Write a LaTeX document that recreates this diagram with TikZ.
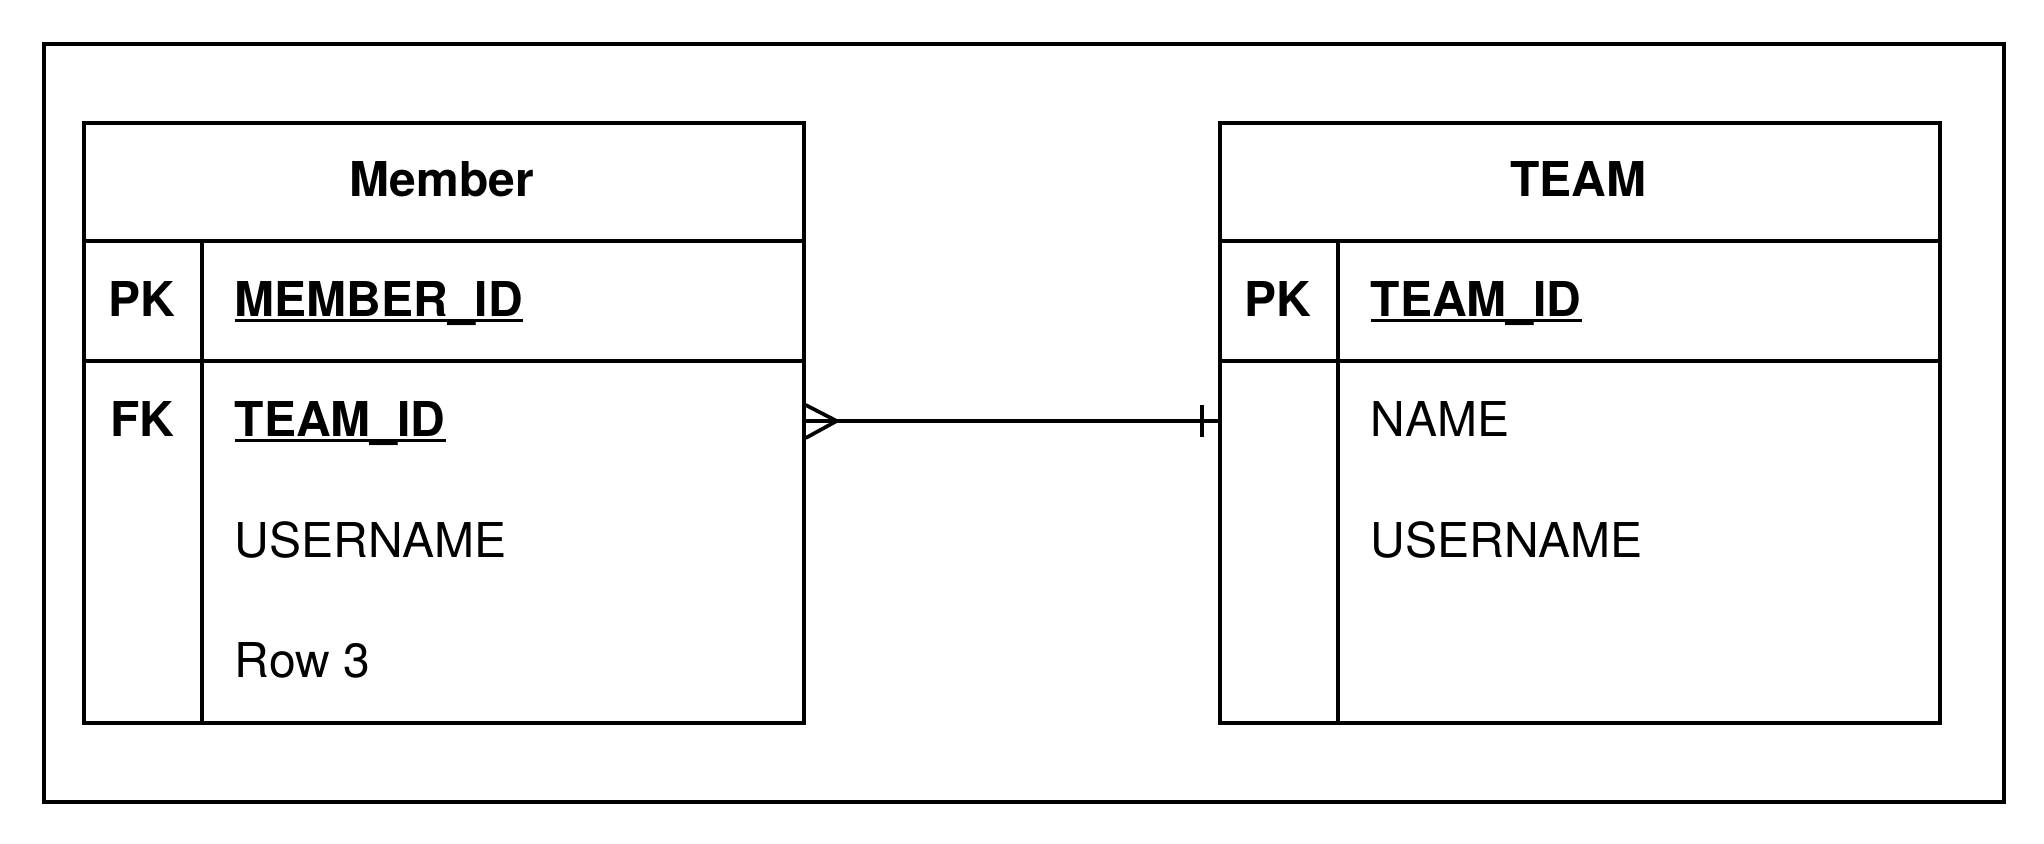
\documentclass[tikz,border=0pt]{standalone}
\usepackage{fontspec}
\setmainfont{TeX Gyre Heros}
\usetikzlibrary{calc}
\newcommand{\ulx}[1]{\setbox0\hbox{#1}\rlap{\rule[-2.6pt]{\wd0}{1.8pt}}\box0}
\begin{document}
\begin{tikzpicture}[x=0.5pt,y=-0.5pt,line width=1.85pt,
  tbl/.style={draw,rectangle,minimum width=360pt,minimum height=300pt,inner sep=0pt,anchor=north west},
  frm/.style={draw,rectangle,minimum width=980pt,minimum height=379pt,inner sep=0pt,anchor=north west},
  fld/.style={inner sep=0pt,anchor=base west,font=\fontsize{24}{28}\selectfont},
  fldb/.style={fld,font=\fontsize{24}{28}\selectfont\bfseries},
  hdr/.style={inner sep=0pt,anchor=base,font=\fontsize{24}{28}\selectfont\bfseries},
  key/.style={inner sep=0pt,anchor=base,font=\fontsize{24}{28}\selectfont\bfseries}]
\fill[white] (0,0) rectangle (2044,844);
\useasboundingbox (0,0) rectangle (2044,844);
\node[frm] (frame) at (42,42) {};
% Member table
\node[tbl] (member) at (82,121) {};
\draw (82,241) -- (802,241);
\draw (82,361) -- (802,361);
\draw (202,241) -- (202,721);
\node[hdr] (mtitle) at (442,197) {Member};
\node[key] (mpk) at (142,317) {PK};
\node[key] (mfk) at (142,437) {FK};
\node[fldb] (mid) at (233,317) {\ulx{MEMBER\_ID}};
\node[fldb] (mteam) at (233,437) {\ulx{TEAM\_ID}};
\node[fld] (muser) at (233,557) {USERNAME};
\node[fld] (mrow3) at (233,677) {Row 3};
% TEAM table
\node[tbl] (team) at (1218,121) {};
\draw (1218,241) -- (1938,241);
\draw (1218,361) -- (1938,361);
\draw (1338,241) -- (1338,721);
\node[hdr] (ttitle) at (1578,197) {TEAM};
\node[key] (tpk) at (1278,317) {PK};
\node[fldb] (tid) at (1369,317) {\ulx{TEAM\_ID}};
\node[fld] (tname) at (1369,437) {NAME};
\node[fld] (tuser) at (1369,557) {USERNAME};
% relation
\coordinate (relrow) at (0,421);
\coordinate (rs) at (member.east |- relrow);
\coordinate (re) at (team.west |- relrow);
\draw (rs) -- (re);
\draw ($(rs)+(0,-16)$) -- ($(rs)+(31,0)$) -- ($(rs)+(0,17)$);
\draw ($(re)+(-16,-16)$) -- ($(re)+(-16,16)$);
\end{tikzpicture}
\end{document}
